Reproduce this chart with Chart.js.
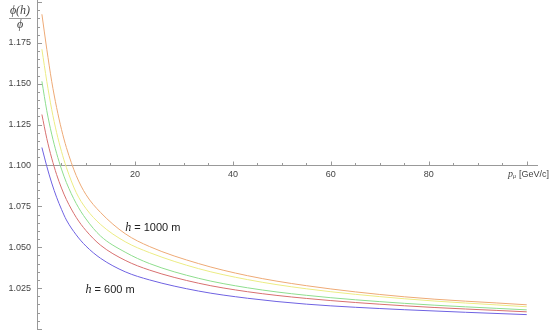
<!DOCTYPE html>
<html>
<head>
<meta charset="utf-8">
<script src="https://cdn.jsdelivr.net/npm/chart.js@4.4.1/dist/chart.umd.min.js"></script>
<style>
  body { margin: 0; background: #fff; }
  #wrapper { width: 550px; height: 330px; }
</style>
</head>
<body>
<div id="wrapper"><canvas id="myChart"></canvas></div>
<script>
// momentum values (GeV/c) where the curves were read
const momentum = [1, 2, 3, 4, 5, 6, 8, 10, 13, 18, 23, 33, 43, 55, 75, 100];

// phi(h)/phi for each altitude
const h600 = [1.1110, 1.0995, 1.0893, 1.0806, 1.0732, 1.0667, 1.0576, 1.0507, 1.0432, 1.0350, 1.0300, 1.0232, 1.0188, 1.0152, 1.0118, 1.0088];
const h700 = [1.1312, 1.1165, 1.1045, 1.0945, 1.0862, 1.0792, 1.0683, 1.0602, 1.0512, 1.0420, 1.0360, 1.0280, 1.0228, 1.0187, 1.0142, 1.0105];
const h800 = [1.1515, 1.1335, 1.1192, 1.1075, 1.0978, 1.0896, 1.0768, 1.0673, 1.0568, 1.0470, 1.0400, 1.0310, 1.0252, 1.0206, 1.0157, 1.0117];
const h900 = [1.1711, 1.1515, 1.1343, 1.1202, 1.1086, 1.0988, 1.0835, 1.0737, 1.0639, 1.0534, 1.0467, 1.0369, 1.0302, 1.0246, 1.0185, 1.0136];
const h1000 = [1.1925, 1.1711, 1.1515, 1.1355, 1.1221, 1.1110, 1.0939, 1.0822, 1.0712, 1.0583, 1.0504, 1.0400, 1.0326, 1.0265, 1.0197, 1.0148];

// axis ticks
const xMajor = [20, 40, 60, 80, 100];
const xLabels = ["20", "40", "60", "80", ""];
const yMajor = [1.025, 1.05, 1.075, 1.1, 1.125, 1.15, 1.175];
const yLabels = ["1.025", "1.050", "1.075", "1.100", "1.125", "1.150", "1.175"];

const series = [
  { name: "600 m", values: h600, color: "#6f62e2" },
  { name: "700 m", values: h700, color: "#d87070" },
  { name: "800 m", values: h800, color: "#8ede8e" },
  { name: "900 m", values: h900, color: "#ecec84" },
  { name: "1000 m", values: h1000, color: "#eeaa76" },
];

const data = {
  datasets: series.map((s) => ({
    label: s.name,
    data: momentum.map((p, i) => ({ x: p, y: s.values[i] })),
    borderColor: s.color,
    borderWidth: 1,
    pointRadius: 0,
    fill: false,
    cubicInterpolationMode: "monotone",
  })),
};

// mathematica-like axes, drawn from the chart's own scales
const axesPlugin = {
  id: "axes",
  beforeDatasetsDraw(chart) {
    const ctx = chart.ctx;
    const xs = chart.scales.x;
    const ys = chart.scales.y;
    const x0 = xs.getPixelForValue(0);
    const yAxis = ys.getPixelForValue(1.1);
    ctx.save();
    ctx.strokeStyle = "#999";
    ctx.lineWidth = 1;

    // y axis line
    ctx.beginPath();
    ctx.moveTo(x0 + 0.5, 0);
    ctx.lineTo(x0 + 0.5, chart.height);
    ctx.stroke();

    // y ticks, minor every 0.005
    for (let k = 0; k <= 40; k++) {
      const v = 1 + k * 0.005;
      const py = Math.round(ys.getPixelForValue(v)) + 0.5;
      const major = k % 5 === 0;
      ctx.beginPath();
      ctx.moveTo(x0, py);
      ctx.lineTo(x0 + (major ? 5 : 3), py);
      ctx.stroke();
    }

    // x axis line at 1.1
    ctx.beginPath();
    ctx.moveTo(x0, Math.round(yAxis) + 0.5);
    ctx.lineTo(xs.right, Math.round(yAxis) + 0.5);
    ctx.stroke();

    // x ticks, minor every 5
    for (let p = 5; p <= 100; p += 5) {
      const px = Math.round(xs.getPixelForValue(p)) + 0.5;
      const major = p % 20 === 0;
      ctx.beginPath();
      ctx.moveTo(px, yAxis);
      ctx.lineTo(px, yAxis - (major ? 4 : 2.5));
      ctx.stroke();
    }

    // tick labels
    ctx.fillStyle = "#444";
    ctx.font = "9px 'Liberation Sans', Arial, sans-serif";
    ctx.textAlign = "center";
    ctx.textBaseline = "middle";
    xMajor.forEach((p, i) => {
      ctx.fillText(xLabels[i], xs.getPixelForValue(p), yAxis + 9);
    });
    ctx.textAlign = "right";
    yMajor.forEach((v, i) => {
      ctx.fillText(yLabels[i], x0 - 6, ys.getPixelForValue(v));
    });

    // x axis title: p_mu [GeV/c]
    ctx.textAlign = "left";
    ctx.font = "italic 10px 'Liberation Serif', serif";
    ctx.fillText("p", 508, yAxis + 9);
    ctx.font = "italic 6px 'Liberation Serif', serif";
    ctx.fillText("\u03bc", 513, yAxis + 11);
    ctx.font = "9px 'Liberation Sans', Arial, sans-serif";
    ctx.fillText("[GeV/c]", 519, yAxis + 9);

    // y axis title: phi(h) / phi
    ctx.textAlign = "center";
    ctx.font = "italic 12px 'Liberation Serif', serif";
    ctx.fillText("\u03d5(h)", 20, 11);
    ctx.fillText("\u03d5", 20, 25);
    ctx.beginPath();
    ctx.moveTo(9, 18.5);
    ctx.lineTo(31, 18.5);
    ctx.stroke();
    ctx.restore();
  },
  afterDatasetsDraw(chart) {
    const ctx = chart.ctx;
    const xs = chart.scales.x;
    const ys = chart.scales.y;
    const notes = [
      { p: 18, v: 1.062, text: " = 1000 m" },
      { p: 9.9, v: 1.024, text: " = 600 m" },
    ];
    ctx.save();
    ctx.fillStyle = "#222";
    ctx.textBaseline = "middle";
    ctx.textAlign = "left";
    notes.forEach((n) => {
      const px = xs.getPixelForValue(n.p);
      const py = ys.getPixelForValue(n.v);
      ctx.font = "italic 12px 'Liberation Serif', serif";
      ctx.fillText("h", px, py);
      const w = ctx.measureText("h").width;
      ctx.font = "11px 'Liberation Sans', Arial, sans-serif";
      ctx.fillText(n.text, px + w, py);
    });
    ctx.restore();
  },
};

const options = {
  responsive: true,
  maintainAspectRatio: false,
  animation: false,
  layout: { padding: { left: 37, right: 12, top: 2, bottom: 1 } },
  plugins: { legend: { display: false }, tooltip: { enabled: false } },
  scales: {
    x: { type: "linear", min: 0, max: 102.3, display: false },
    y: { type: "linear", min: 1.0, max: 1.2, display: false },
  },
};

const ctx = document.getElementById("myChart").getContext("2d");
let myChart = new Chart(ctx, {
  type: "line",
  data,
  options,
  plugins: [axesPlugin],
});
</script>
</body>
</html>
